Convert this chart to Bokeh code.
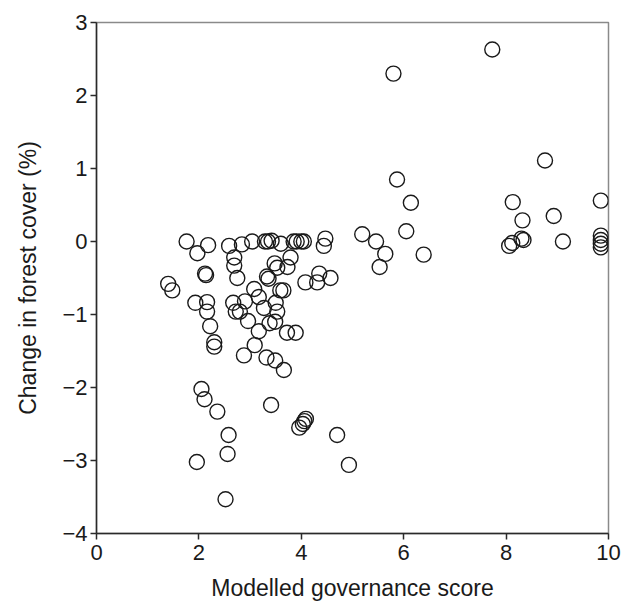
from bokeh.plotting import figure
from bokeh.models import Range1d, FixedTicker
from bokeh.embed import file_html
from bokeh.resources import INLINE

governance = [
    7.73, 5.80, 8.76, 5.87, 6.14, 8.13, 9.85, 8.93, 8.32, 6.05, 5.19, 5.46, 5.64, 5.53, 6.39,
    9.11, 8.06, 8.12, 8.30, 8.34, 9.85, 9.85, 9.85, 9.85,
    1.76, 1.97, 2.18, 2.59, 2.84, 3.04, 3.29, 3.42, 3.60, 3.85, 3.91, 4.00, 4.05, 4.47, 4.44, 3.35,
    2.69, 2.69, 2.75, 2.12, 2.14, 1.40, 1.48, 3.48, 3.53, 3.79, 3.73, 3.33, 3.36, 4.08, 4.31, 4.35, 4.57,
    3.08, 3.17, 3.59, 3.65, 1.93, 2.16, 2.16, 2.67, 2.72, 2.80, 2.90, 2.96, 3.27, 3.50, 3.53, 3.38,
    3.49, 3.17, 2.22, 2.30, 2.30, 3.72, 3.89, 3.09, 2.88, 3.32, 3.49, 3.66,
    2.05, 2.11, 2.36, 3.41, 2.58, 2.56, 1.96, 2.52, 3.96, 4.06, 4.09, 4.03, 4.70, 4.93,
]
forest_change = [
    2.63, 2.30, 1.11, 0.85, 0.53, 0.54, 0.56, 0.35, 0.29, 0.14, 0.10, 0.00, -0.17, -0.35, -0.18,
    0.00, -0.06, -0.02, 0.04, 0.02, 0.08, 0.02, -0.03, -0.08,
    0.00, -0.16, -0.05, -0.06, -0.04, 0.00, 0.00, 0.01, -0.03, 0.00, 0.00, 0.00, 0.00, 0.04, -0.06, 0.00,
    -0.22, -0.33, -0.50, -0.44, -0.46, -0.58, -0.67, -0.30, -0.36, -0.22, -0.35, -0.48, -0.51, -0.56, -0.56, -0.44, -0.50,
    -0.65, -0.76, -0.67, -0.67, -0.84, -0.83, -0.96, -0.84, -0.96, -0.96, -0.82, -1.09, -0.91, -0.84, -0.96, -1.12,
    -1.10, -1.23, -1.16, -1.38, -1.44, -1.25, -1.25, -1.42, -1.56, -1.59, -1.63, -1.76,
    -2.02, -2.16, -2.33, -2.24, -2.65, -2.91, -3.02, -3.53, -2.55, -2.46, -2.43, -2.50, -2.65, -3.06,
]
x_ticks = [0, 2, 4, 6, 8, 10]
y_ticks = [-4, -3, -2, -1, 0, 1, 2, 3]

FONT = "Liberation Sans"

p = figure(width=622, height=609, output_backend="svg", toolbar_location=None,
           x_range=Range1d(0, 10), y_range=Range1d(-4, 3))
p.min_border_left = 96
p.min_border_right = 14
p.min_border_top = 22
p.min_border_bottom = 76

p.grid.visible = False
p.outline_line_color = "#8a8a8a"
p.outline_line_width = 1.5

p.scatter(governance, forest_change, marker="circle", size=15,
          fill_color=None, line_color="#1a1a1a", line_width=1.4)

for ax, ticks in ((p.xaxis[0], x_ticks), (p.yaxis[0], y_ticks)):
    ax.ticker = FixedTicker(ticks=ticks)
    ax.minor_tick_line_color = None
    ax.major_tick_in = 0
    ax.major_tick_out = 6
    ax.axis_line_color = "#2a2a2a"
    ax.axis_line_width = 1.5
    ax.major_tick_line_color = "#2a2a2a"
    ax.major_tick_line_width = 1.5
    ax.major_label_text_font = FONT
    ax.major_label_text_font_size = "22px"
    ax.major_label_text_color = "#1a1a1a"
    ax.axis_label_text_font = FONT
    ax.axis_label_text_font_size = "23px"
    ax.axis_label_text_font_style = "normal"
    ax.axis_label_text_color = "#1a1a1a"

p.xaxis.axis_label = "Modelled governance score"
p.yaxis.axis_label = "Change in forest cover (%)"
p.xaxis.major_label_standoff = 5
p.xaxis.axis_label_standoff = 12
p.yaxis.major_label_standoff = 3
p.yaxis.axis_label_standoff = 18
p.yaxis.major_label_overrides = {-4: "\u22124", -3: "\u22123", -2: "\u22122", -1: "\u22121"}

open("out.html", "w").write(file_html(p, INLINE))
